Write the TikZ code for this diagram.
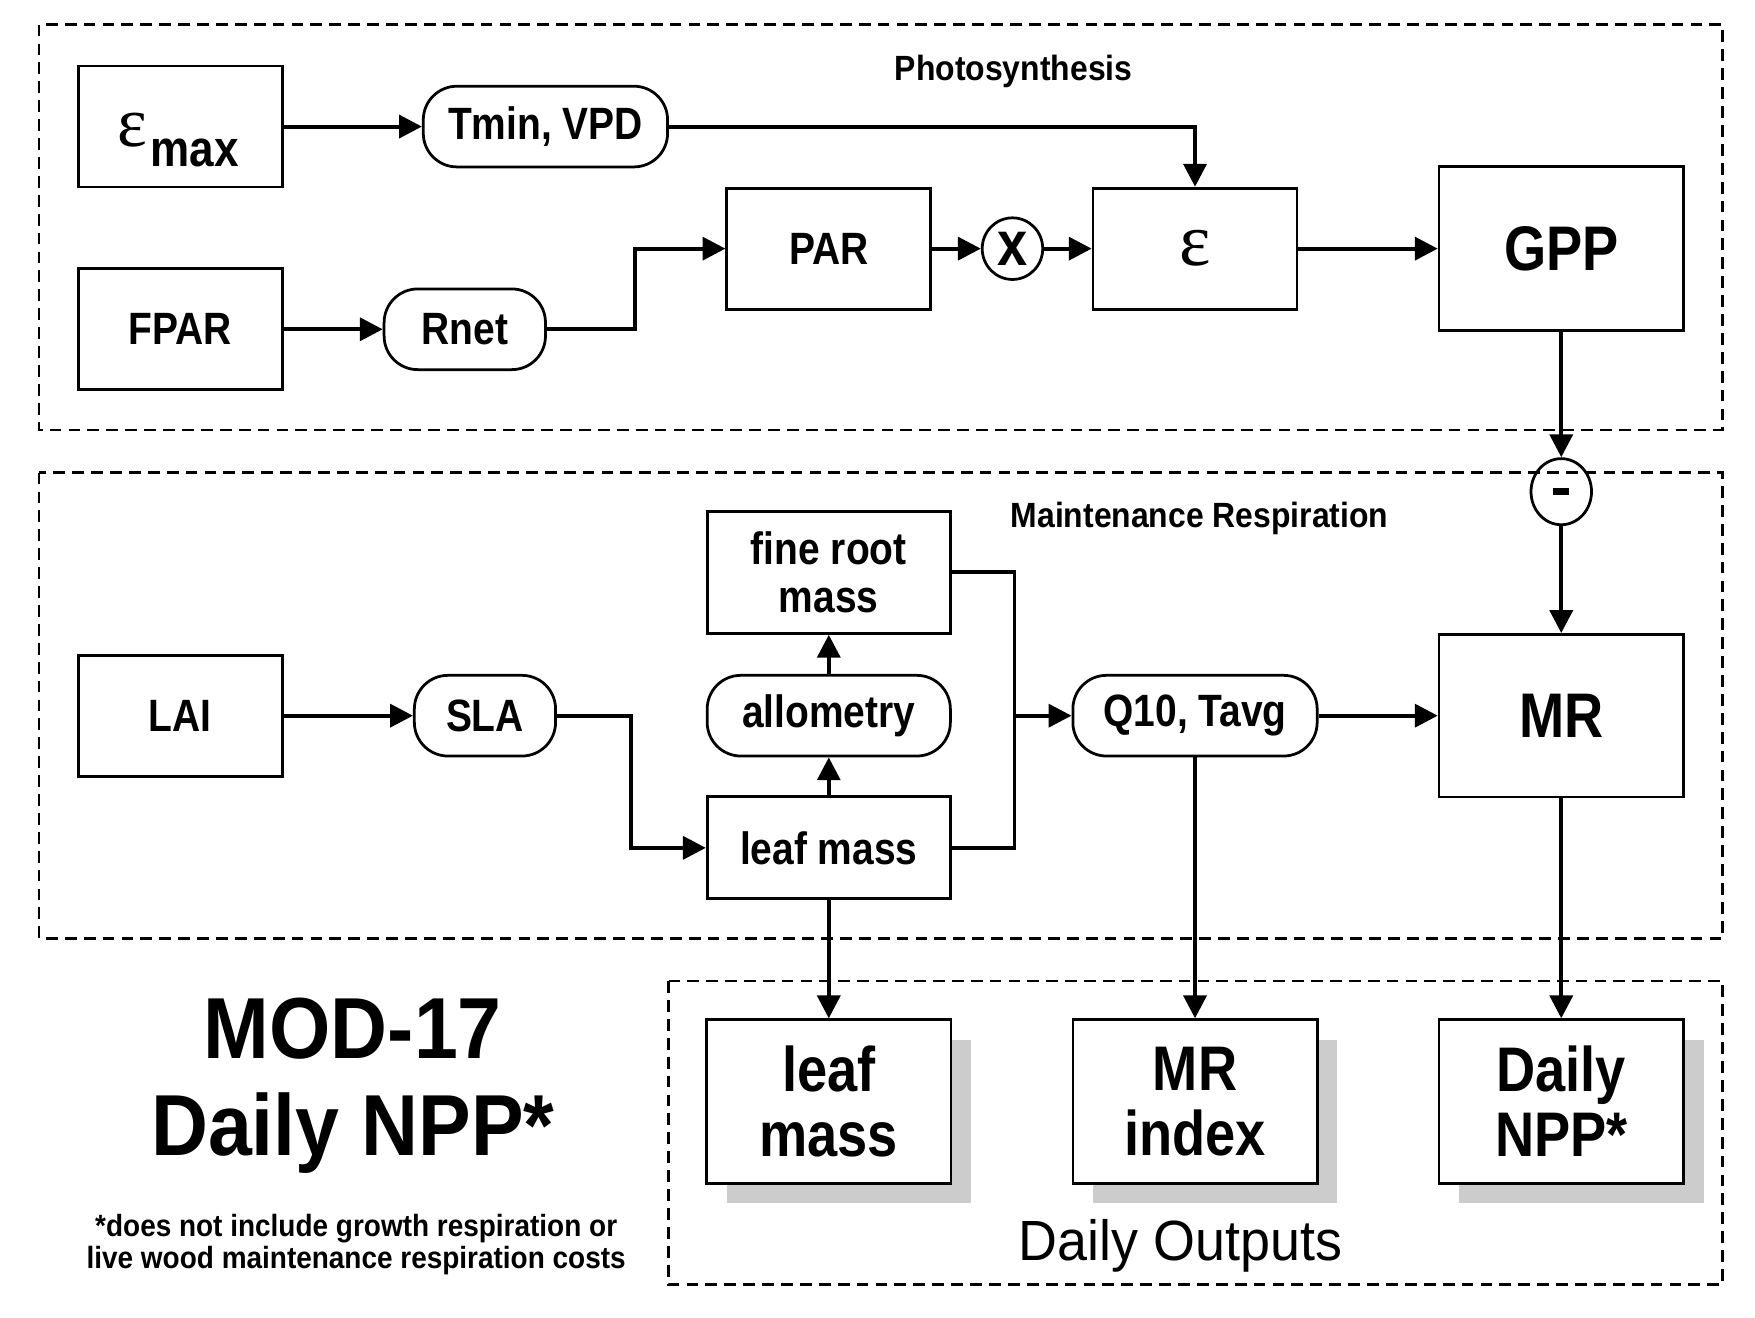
\documentclass[tikz,border=0pt]{standalone}
\usepackage{fontspec}
\setmainfont{Liberation Sans}[FakeStretch=0.86]
\newfontfamily\titlefont{Liberation Sans}[FakeStretch=0.91]
\newfontfamily\plainfont{Liberation Sans}[FakeStretch=0.95]
\newfontfamily\epsfont{Liberation Serif}
\usetikzlibrary{arrows.meta,shapes.geometric,shadows}

\tikzset{
  region/.style={draw, line width=0.6pt, dash pattern=on 3pt off 1.8pt},
  box/.style={draw, line width=0.7pt, inner sep=0pt, align=center,
    minimum width=1.82cm, minimum height=1.08cm,
    font=\bfseries\fontsize{11.5}{12}\selectfont},
  bigbox/.style={box, minimum width=2.18cm, minimum height=1.46cm,
    font=\bfseries\fontsize{16}{16.5}\selectfont},
  outbox/.style={bigbox, fill=white,
    drop shadow={shadow xshift=0.18cm, shadow yshift=-0.18cm, fill=black!20, opacity=1}},
  pill/.style={draw, line width=0.7pt, rounded corners=0.3cm, inner sep=0pt,
    minimum height=0.72cm, font=\bfseries\fontsize{11.5}{12}\selectfont},
  op/.style={draw, ellipse, line width=0.7pt, inner sep=0pt,
    minimum width=0.54cm, minimum height=0.55cm,
    font=\bfseries\fontsize{16}{16}\selectfont},
  sect/.style={anchor=base, font=\titlefont\bfseries\fontsize{8.9}{9}\selectfont},
  note/.style={anchor=base, font=\titlefont\bfseries\fontsize{7.8}{8}\selectfont},
  arr/.style={line width=1pt, -{Triangle[length=5.8pt,width=5.8pt]}},
  wire/.style={line width=1pt},
}

\begin{document}
\begin{tikzpicture}[x=0.01cm, y=-0.01cm]
        \useasboundingbox (0,0) rectangle (1567,1176.8);
        % regions
        \draw[region] (35,22) rectangle (1538,384);
        \draw[region] (35,422) rectangle (1538,838);
        \draw[region] (597,876) rectangle (1538,1147);
        \node[sect] (photo) at (905,72) {Photosynthesis};
        \node[sect] (maint) at (1071,471) {Maintenance Respiration};
        \node[anchor=base, font=\plainfont\fontsize{14.4}{14.4}\selectfont] (outs) at (1054,1125) {Daily Outputs};
        % photosynthesis
        \node[box] (emax) at (161,113) {};
        \node[font=\epsfont\fontsize{18}{18}\selectfont] (emaxeps) at (118,116) {ε};
        \node[font=\bfseries\fontsize{13}{13}\selectfont] (emaxsub) at (174,137) {max};
        \node[pill, minimum width=2.18cm] (tmin) at (487,113) {Tmin, VPD};
        \node[box] (fpar) at (161,294) {FPAR};
        \node[pill, minimum width=1.44cm] (rnet) at (415,294) {Rnet};
        \node[box] (par) at (740,222) {PAR};
        \node[op] (times) at (904,222) {x};
        \node[box, font=\epsfont\fontsize{19}{19}\selectfont] (eps) at (1067,222) {ε};
        \node[bigbox] (gpp) at (1394,222) {GPP};
        \draw[arr] (emax.east) -- (tmin.west);
        \draw[arr] (tmin.east) -| (eps.north);
        \draw[arr] (fpar.east) -- (rnet.west);
        \draw[arr] (rnet.east) -| ([xshift=-0.81cm]par.west) -- (par.west);
        \draw[arr] (par.east) -- (times.west);
        \draw[arr] (times.east) -- (eps.west);
        \draw[arr] (eps.east) -- (gpp.west);
        % respiration
        \node[op, minimum height=0.59cm] (minus) at (1394,439) {\rule[-0.85pt]{4pt}{1.7pt}};
        \node[box] (lai) at (161,639) {LAI};
        \node[pill, minimum width=1.26cm] (sla) at (433,639) {SLA};
        \node[box, minimum width=2.17cm, minimum height=1.09cm] (froot) at (740,511) {fine root\\mass};
        \node[pill, minimum width=2.17cm] (allom) at (740,639) {allometry};
        \node[box, minimum width=2.17cm, minimum height=0.91cm] (leaf) at (740,757) {leaf mass};
        \node[pill, minimum width=2.18cm] (q10) at (1067,639) {Q10, Tavg};
        \node[bigbox, minimum height=1.45cm] (mr) at (1394,639) {MR};
        \coordinate (join) at ([xshift=0.56cm]froot.east |- q10.west);
        \draw[arr] (gpp.south) -- (minus.north);
        \draw[arr] (minus.south) -- (mr.north);
        \draw[arr] (lai.east) -- (sla.west);
        \draw[arr] (sla.east) -| ([xshift=-0.67cm]leaf.west) -- (leaf.west);
        \draw[arr] (leaf.north) -- (allom.south);
        \draw[arr] (allom.north) -- (froot.south);
        \draw[wire] (froot.east) -| (join) |- (leaf.east);
        \draw[arr] (join) -- (q10.west);
        \draw[arr] (q10.east) -- (mr.west);
        % outputs
        \node[outbox] (oleaf) at (740,983.5) {leaf\\mass};
        \node[outbox] (omr) at (1067,983.5) {MR\\index};
        \node[outbox] (onpp) at (1394,983.5) {Daily\\NPP*};
        \draw[arr] (leaf.south) -- (oleaf.north);
        \draw[arr] (q10.south) -- (omr.north);
        \draw[arr] (mr.south) -- (onpp.north);
        % title
        \node[anchor=base, font=\titlefont\bfseries\fontsize{22}{22}\selectfont] (title1) at (315,945) {MOD-17};
        \node[anchor=base, font=\titlefont\bfseries\fontsize{22}{22}\selectfont] (title2) at (315,1032) {Daily NPP*};
        \node[note] (note1) at (318,1104) {*does not include growth respiration or};
        \node[note] (note2) at (318,1133) {live wood maintenance respiration costs};
\end{tikzpicture}
\end{document}
